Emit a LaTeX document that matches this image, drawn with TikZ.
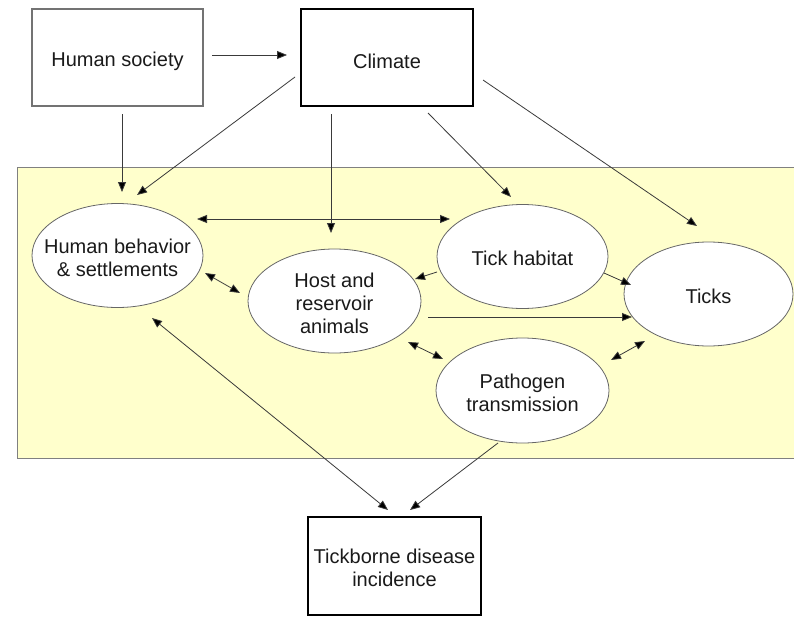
\documentclass[tikz,border=0pt]{standalone}
\usepackage{fontspec}
\setmainfont{Liberation Sans}
\usetikzlibrary{arrows.meta,shapes.geometric}
\definecolor{panel}{HTML}{FFFFCC}
\definecolor{ink}{HTML}{1A1A1A}
\definecolor{wire}{HTML}{3A3A3A}
\tikzset{
  lbl/.style={font=\fontsize{20}{23}\selectfont, text=ink, align=center},
  thinbox/.style={lbl, draw=black!55, line width=1.2pt, fill=white, rectangle, inner sep=0pt},
  thickbox/.style={lbl, draw=black, line width=2pt, fill=white, rectangle, inner sep=0pt},
  oval/.style={ellipse, draw=black!60, line width=0.8pt, fill=white, inner sep=0pt},
  arr/.style={draw=wire, line width=0.8pt, -{Triangle[length=10pt,width=8pt,fill=black]}},
  darr/.style={draw=wire, line width=0.8pt, {Triangle[length=10pt,width=8pt,fill=black]}-{Triangle[length=10pt,width=8pt,fill=black]}},
}
\begin{document}
\begin{tikzpicture}[x=1pt,y=-1pt]
\useasboundingbox (0,0) rectangle (794,618);
\fill[white] (0,0) rectangle (794,618);
\draw[fill=panel, draw=black!50, line width=1pt] (17,167) rectangle (800,458);

\node[thinbox, minimum width=171pt, minimum height=97pt] (hs) at (117.5,57.5) {};
\node[lbl] (hst) at ([yshift=-4pt]hs.center) {Human society};
\node[thickbox, minimum width=172pt, minimum height=97pt] (cl) at (387,57.5) {};
\node[lbl] (clt) at ([yshift=-4pt]cl.center) {Climate};
\node[oval, minimum width=171pt, minimum height=104pt] (hb) at (117.5,255.5) {};
\node[lbl] (hbt) at ([yshift=-2pt]hb.center) {Human behavior\\\& settlements};
\node[oval, minimum width=173pt, minimum height=104pt] (ha) at (334.5,301) {};
\node[lbl] (hat) at ([yshift=-2pt]ha.center) {Host and\\reservoir\\animals};
\node[oval, minimum width=171pt, minimum height=104pt] (th) at (522.5,256.5) {};
\node[lbl] (tht) at ([yshift=-2pt]th.center) {Tick habitat};
\node[oval, minimum width=169pt, minimum height=104pt] (tk) at (708.5,294) {};
\node[lbl] (tkt) at ([yshift=-2pt]tk.center) {Ticks};
\node[oval, minimum width=173pt, minimum height=105pt] (pt) at (522.5,390.5) {};
\node[lbl] (ptt) at ([yshift=-2pt]pt.center) {Pathogen\\transmission};
\node[thickbox, minimum width=173pt, minimum height=98pt] (td) at (394.5,566) {};
\node[lbl] (tdt) at ([yshift=-2pt]td.center) {Tickborne disease\\incidence};

\draw[arr] ([shift={(94.5,-2.5)}]hs.center) -- ([shift={(-100,-2.5)}]cl.center);
\draw[arr] ([shift={(4.5,56.5)}]hs.center) -- ([shift={(4.5,-63.5)}]hb.center);
\draw[arr] ([shift={(-92,19.5)}]cl.center) -- ([shift={(19.5,-60.5)}]hb.center);
\draw[arr] ([shift={(-56,56.5)}]cl.center) -- ([shift={(-3.5,-68)}]ha.center);
\draw[arr] ([shift={(41,55.5)}]cl.center) -- ([shift={(-11.5,-59.5)}]th.center);
\draw[arr] ([shift={(96,22.5)}]cl.center) -- ([shift={(-11.5,-68)}]tk.center);
\draw[darr] ([shift={(79.5,-36.5)}]hb.center) -- ([shift={(-72.5,-37.5)}]th.center);
\draw[darr] ([shift={(87.5,17.5)}]hb.center) -- ([shift={(-94.5,-8)}]ha.center);
\draw[arr] ([shift={(-85.5,15.5)}]th.center) -- ([shift={(80.5,-22)}]ha.center);
\draw[arr] ([shift={(81.5,16.5)}]th.center) -- ([shift={(-77.5,-9)}]tk.center);
\draw[arr] ([shift={(93.5,16)}]ha.center) -- ([shift={(-76.5,23)}]tk.center);
\draw[darr] ([shift={(73.5,41)}]ha.center) -- ([shift={(-79.5,-31.5)}]pt.center);
\draw[darr] ([shift={(88.5,-30.5)}]pt.center) -- ([shift={(-63.5,47)}]tk.center);
\draw[darr] ([shift={(34.5,62.5)}]hb.center) -- ([shift={(-6.5,-56)}]td.center);
\draw[arr] ([shift={(-24.5,52.5)}]pt.center) -- ([shift={(15.5,-56)}]td.center);
\end{tikzpicture}
\end{document}
